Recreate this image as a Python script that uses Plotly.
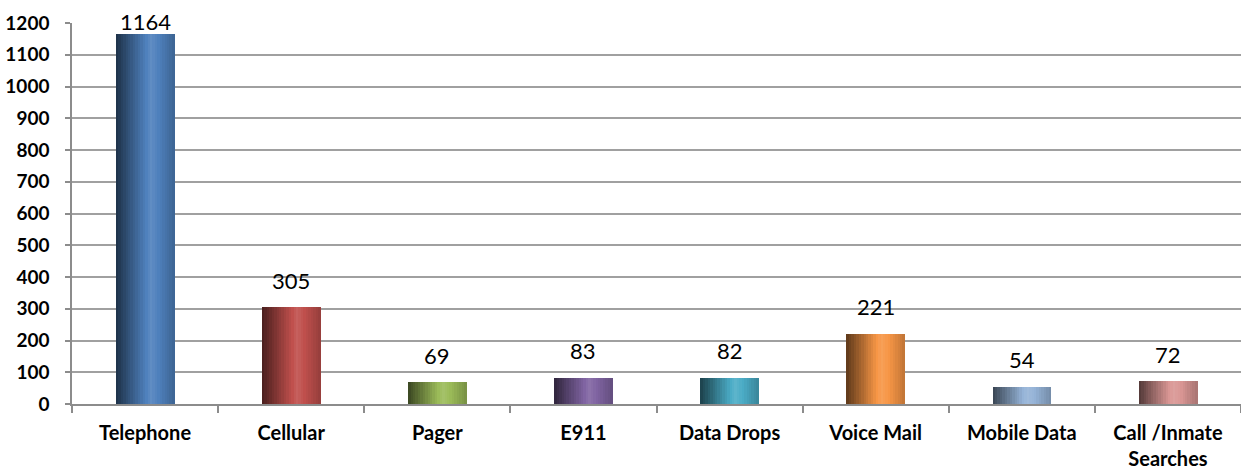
import plotly.graph_objects as go

categories = ["Telephone", "Cellular", "Pager", "E911", "Data Drops",
              "Voice Mail", "Mobile Data", "Call /Inmate<br>Searches"]
values = [1164, 305, 69, 83, 82, 221, 54, 72]
base_colors = ["#4F81BD", "#C0504D", "#9BBB59", "#8064A2", "#4BACC6",
               "#F79646", "#95B3D7", "#D99694"]
y_ticks = list(range(0, 1201, 100))

N = 24
BAR_W = 0.40
PLOT_TOP = 23
PLOT_BOTTOM = 68
FIG_H = 472
px_per_unit = (FIG_H - PLOT_TOP - PLOT_BOTTOM) / 1200.0


def shade(hexc, f):
    h = hexc.lstrip("#")
    r, g, b = (int(h[i:i + 2], 16) for i in (0, 2, 4))
    if f <= 1:
        r, g, b = r * f, g * f, b * f
    else:
        k = f - 1
        r, g, b = r + (255 - r) * k, g + (255 - g) * k, b + (255 - b) * k
    return "rgb(%d,%d,%d)" % (min(255, r), min(255, g), min(255, b))


def profile(t):
    pts = [(0.0, 0.38), (0.6, 1.1), (1.0, 0.78)]
    for (t0, f0), (t1, f1) in zip(pts, pts[1:]):
        if t <= t1:
            return f0 + (f1 - f0) * (t - t0) / (t1 - t0)
    return pts[-1][1]


fig = go.Figure()
sw = BAR_W / N
for i in range(N):
    t = (i + 0.5) / N
    f = profile(t)
    fig.add_trace(go.Bar(
        x=categories, y=values,
        width=sw * 1.15, offset=-BAR_W / 2 + i * sw,
        marker=dict(color=[shade(c, f) for c in base_colors], line=dict(width=0)),
        showlegend=False, hoverinfo="skip",
    ))

for cat, v in zip(categories, values):
    top_px = PLOT_TOP + (1200 - v) * px_per_unit
    shift = min(27, top_px - 21)
    fig.add_annotation(x=cat, y=v, text=str(v), showarrow=False,
                       yshift=shift, yanchor="middle",
                       font=dict(family="Lato", size=22, color="#000000"))

fig.update_layout(
    width=1241, height=472,
    margin=dict(l=72, r=0, t=PLOT_TOP, b=PLOT_BOTTOM),
    barmode="overlay", bargap=0,
    plot_bgcolor="white", paper_bgcolor="white",
    font=dict(family="Lato", color="#000000"),
)
fig.update_xaxes(
    type="category", automargin=False,
    showline=True, linecolor="#8c8c8c", linewidth=1.5,
    ticks="outside", tickson="boundaries", ticklen=7, tickcolor="#8c8c8c", tickwidth=1.5,
    tickfont=dict(family="Lato", size=20, color="#000000", weight="bold"),
    ticklabelstandoff=10,
    showgrid=False,
)
fig.update_yaxes(
    range=[0, 1200], tickvals=y_ticks, automargin=False,
    showline=True, linecolor="#8c8c8c", linewidth=1.5,
    ticks="outside", ticklen=5, tickcolor="#8c8c8c", tickwidth=1.5,
    showgrid=True, gridcolor="#a0a0a0", gridwidth=2,
    tickfont=dict(family="Lato", size=19, color="#000000", weight="bold"),
    ticklabelstandoff=12,
    zeroline=False,
)

fig.write_html("out.html")
